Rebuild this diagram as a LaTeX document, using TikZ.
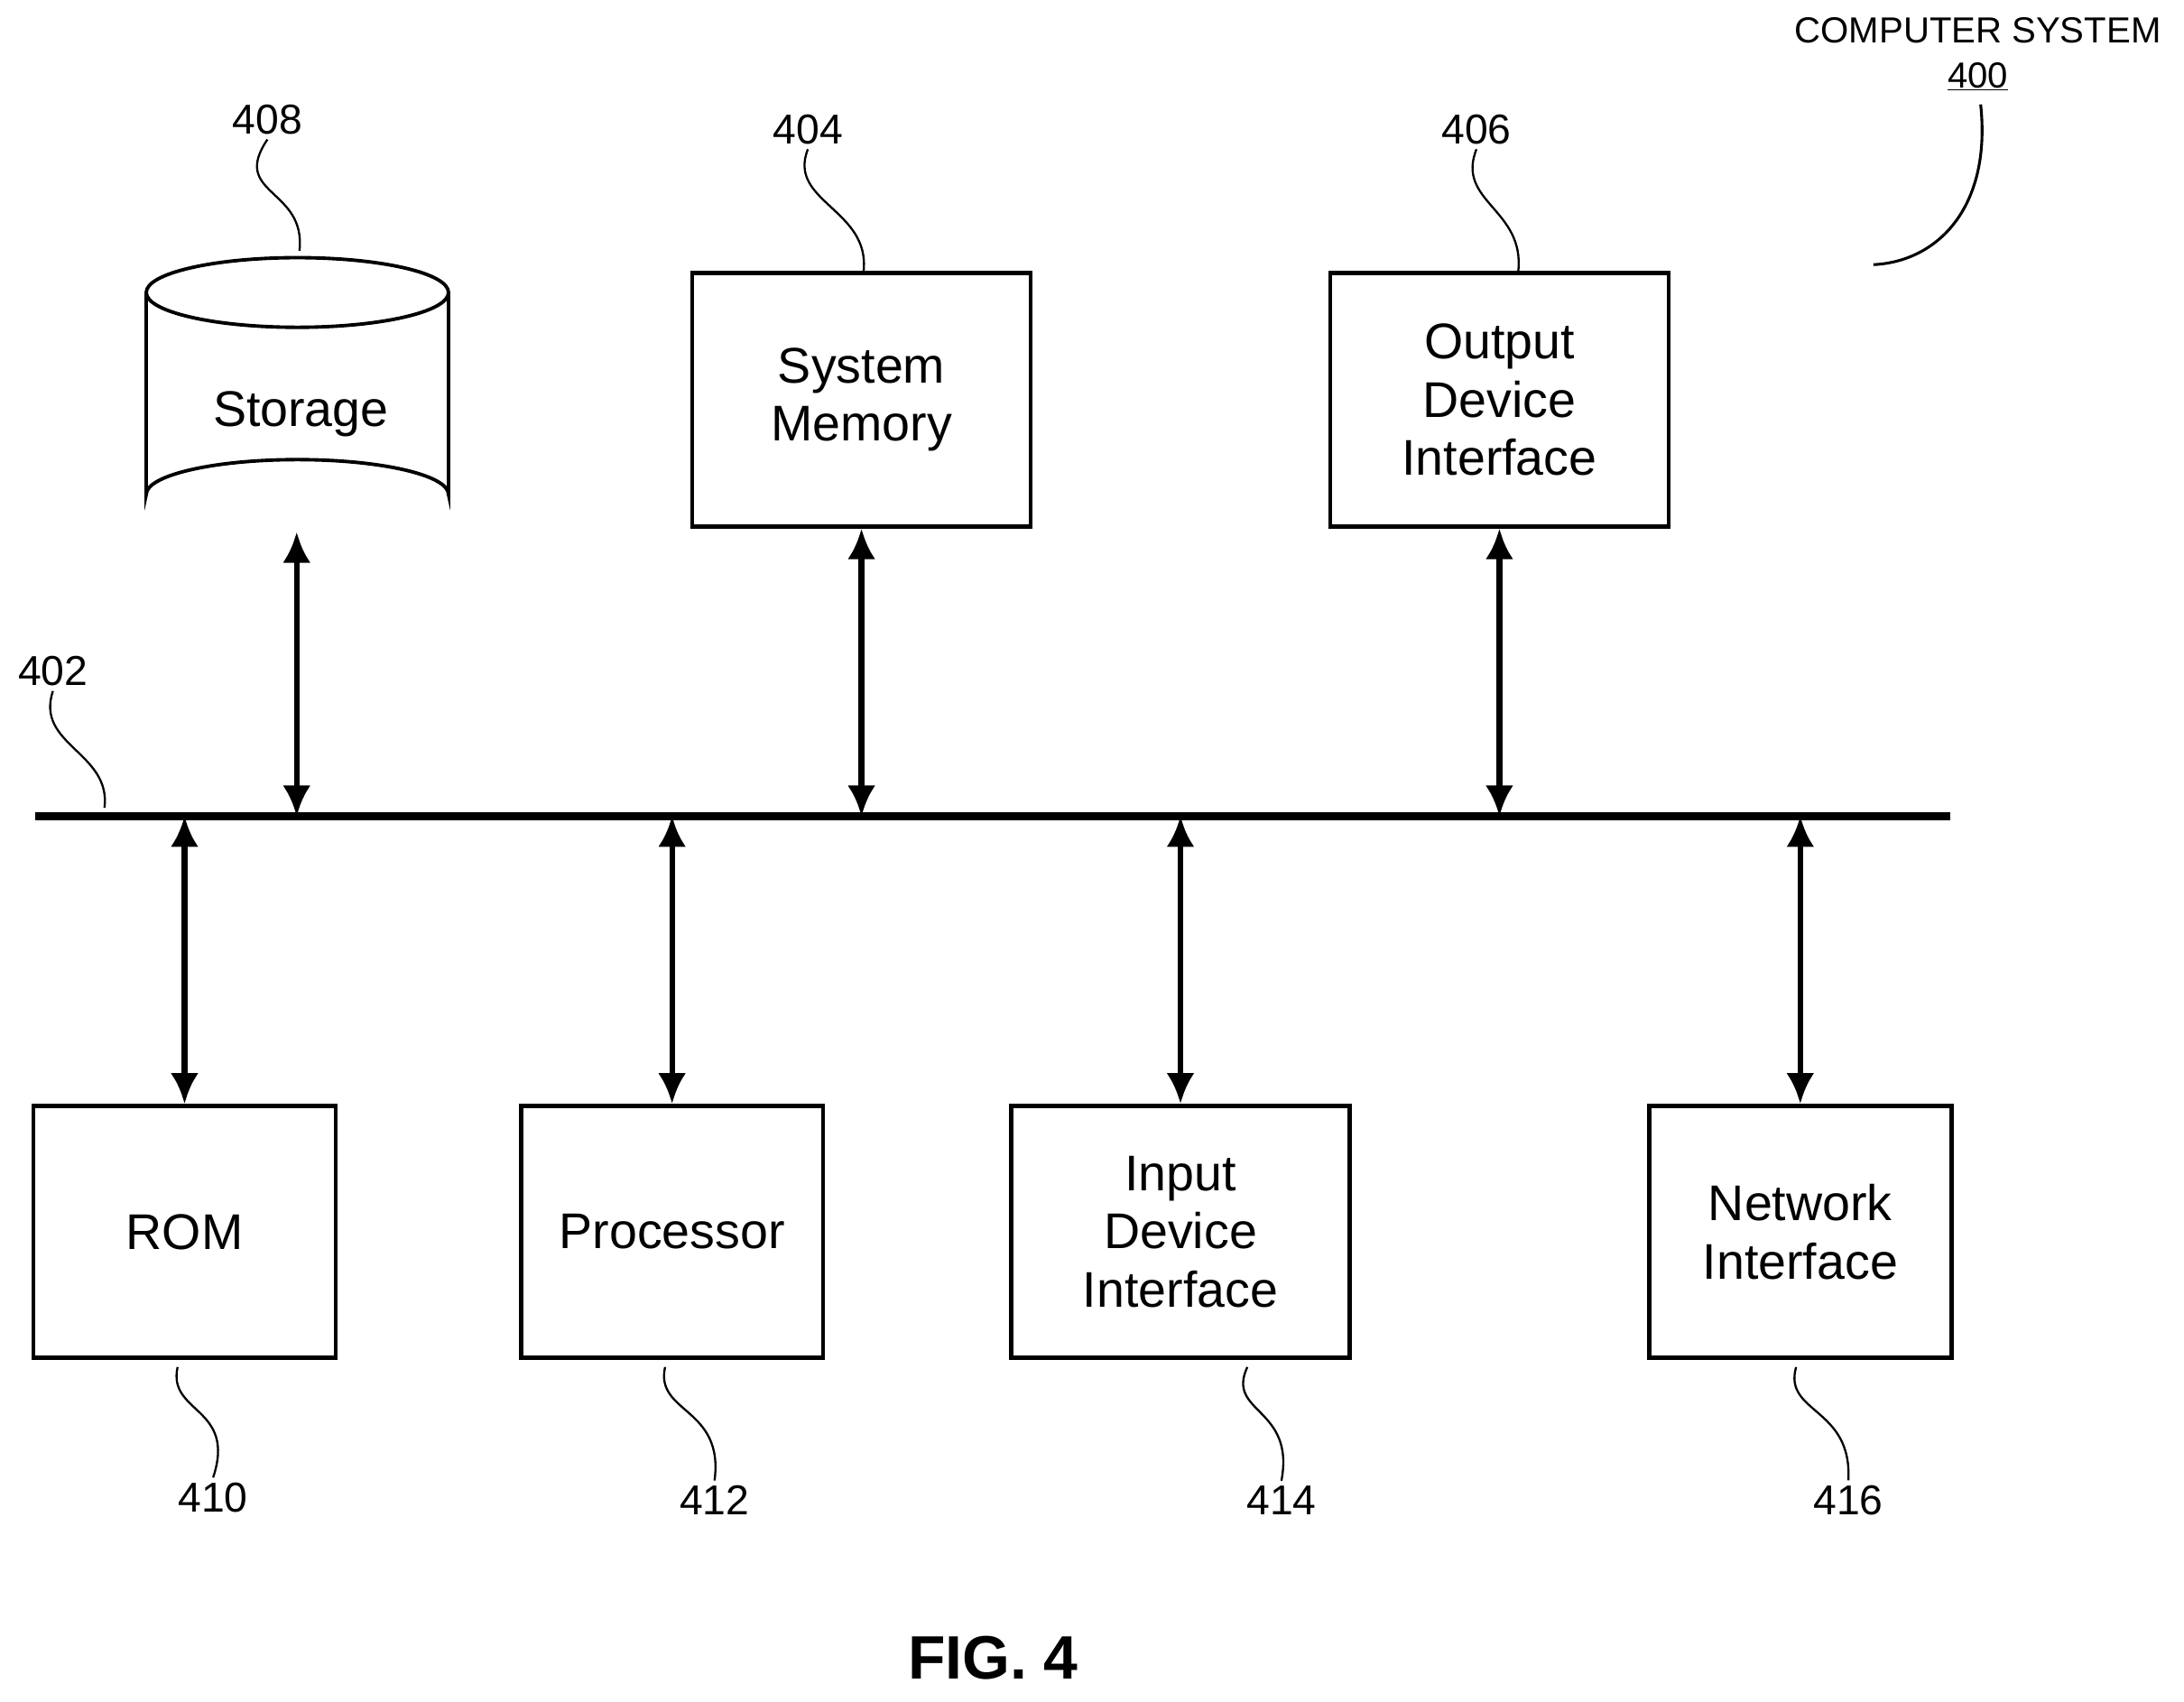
\documentclass[tikz,border=0pt]{standalone}
\usepackage{fontspec}
\setmainfont{Liberation Sans}
\usetikzlibrary{arrows.meta}
\begin{document}
\begin{tikzpicture}[x=1pt,y=-1pt,
  box/.style={draw,line width=3pt,align=center,font=\fontsize{36}{42}\selectfont,inner sep=0pt},
  lab/.style={font=\fontsize{30}{34}\selectfont},
  lead/.style={line width=1.5pt},
  arr/.style={line width=4pt,{Latex[length=22,width=20]}-{Latex[length=22,width=20]}}]
\useasboundingbox (0,0) rectangle (1568,1222);
% boxes (centers and sizes)
\node[box,minimum width=243,minimum height=182] (mem) at (618.5,287) {System\\Memory};
\node[box,minimum width=243,minimum height=182] (out) at (1076.5,287) {Output\\Device\\Interface};
\node[box,minimum width=217,minimum height=181] (rom) at (132.5,884.5) {ROM};
\node[box,minimum width=217,minimum height=181] (proc) at (482.5,884.5) {Processor};
\node[box,minimum width=243,minimum height=181] (inp) at (847.5,884.5) {Input\\Device\\Interface};
\node[box,minimum width=217,minimum height=181] (net) at (1292.5,884.5) {Network\\Interface};
% storage cylinder
\draw[line width=2.5pt] (105,210) -- (105,355) arc[start angle=180,end angle=360,x radius=108.5,y radius=25] -- (322,210);
\draw[line width=2.5pt] (213.5,210) ellipse[x radius=108.5,y radius=25];
\node[font=\fontsize{36}{42}\selectfont] (stor) at (216,297) {Storage};
\coordinate (storb) at (213,382);
% bus
\coordinate (bL) at (25,586);
\coordinate (bR) at (1400,586);
\draw[line width=6pt] (bL) -- (bR);
% arrows
\draw[arr] (storb) -- (storb |- bL);
\draw[arr] (mem.south) -- (mem.south |- bL);
\draw[arr] (out.south) -- (out.south |- bL);
\draw[arr] (rom.north) -- (rom.north |- bL);
\draw[arr] (proc.north) -- (proc.north |- bL);
\draw[arr] (inp.north) -- (inp.north |- bL);
\draw[arr] (net.north) -- (net.north |- bL);
% labels
\node[lab] (l408) at (192,86) {408};
\node[lab] (l404) at (580,93) {404};
\node[lab] (l406) at (1060,93) {406};
\node[lab] (l402) at (38,482) {402};
\node[lab] (l410) at (153,1075) {410};
\node[lab] (l412) at (513,1077) {412};
\node[lab] (l414) at (920,1077) {414};
\node[lab] (l416) at (1327,1077) {416};
\draw[lead] (l408.south) .. controls (165,140) and (220,135) .. (215,180);
\draw[lead] (l404.south) .. controls (565,145) and (625,150) .. (620,195);
\draw[lead] (l406.south) .. controls (1045,145) and (1095,150) .. (1090,195);
\draw[lead] (l402.south) .. controls (25,535) and (80,540) .. (75,580);
\draw[lead] (rom.south) ++(-5,5) .. controls (120,1015) and (170,1010) .. (l410.north);
\draw[lead] (proc.south) ++(-5,5) .. controls (470,1015) and (520,1010) .. (l412.north);
\draw[lead] (inp.south) ++(48,5) .. controls (880,1015) and (930,1010) .. (l414.north);
\draw[lead] (net.south) ++(-3,5) .. controls (1280,1015) and (1330,1010) .. (l416.north);
\node[font=\fontsize{26}{30}\selectfont] (cs) at (1420,22) {COMPUTER SYSTEM};
\node[font=\fontsize{26}{30}\selectfont] (n400) at (1420,55) {\underline{400}};
\draw[lead,line width=2pt] (1422,75) .. controls (1430,150) and (1390,188) .. (1345,190);
\node[font=\bfseries\fontsize{44}{50}\selectfont] (fig) at (713,1190) {FIG. 4};
\end{tikzpicture}
\end{document}
